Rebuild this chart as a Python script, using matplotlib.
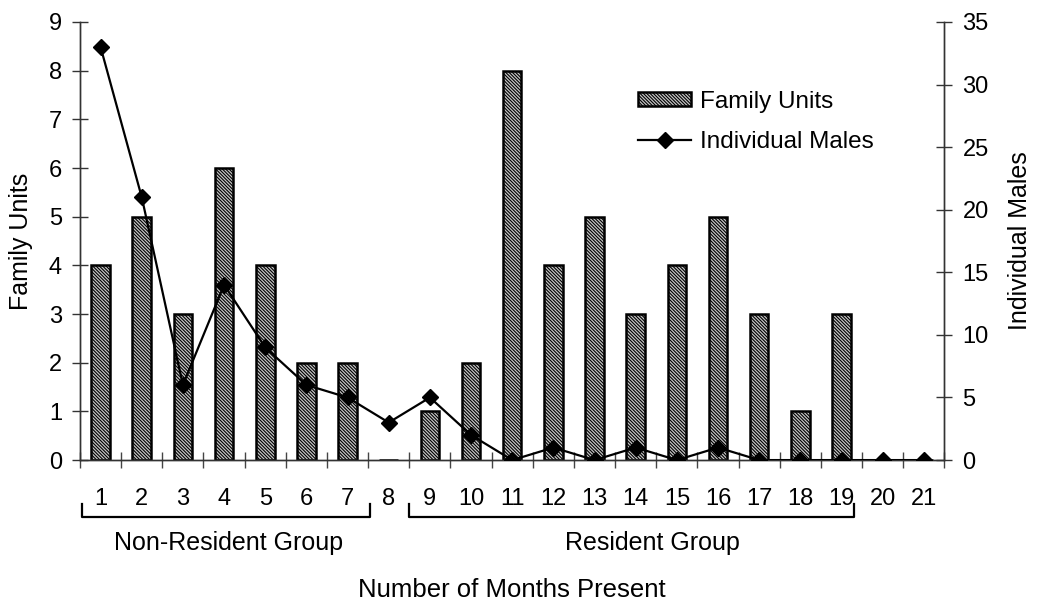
import matplotlib.pyplot as plt
import matplotlib as mpl
import numpy as np

plt.rcParams['font.family'] = ['Liberation Sans', 'DejaVu Sans']
plt.rcParams['hatch.linewidth'] = 0.8
plt.rcParams['hatch.color'] = '#3a3a3a'

# DATA
months = list(range(1, 22))
family_units = [4, 5, 3, 6, 4, 2, 2, 0, 1, 2, 8, 4, 5, 3, 4, 5, 3, 1, 3, 0, 0]
individual_males = [33, 21, 6, 14, 9, 6, 5, 3, 5, 2, 0, 1, 0, 1, 0, 1, 0, 0, 0, 0, 0]
# group name, bracket start, bracket end, label centre (in month units)
groups = [('Non-Resident Group', 0.55, 7.55, 4.12),
          ('Resident Group', 8.5, 19.3, 14.4)]

fig = plt.figure(figsize=(10.39, 6.11), dpi=100)
ax = fig.add_axes([0.077, 0.247, 0.832, 0.717])
ax2 = ax.twinx()

x = np.array(months)
ax.bar(x, family_units, width=0.45, facecolor='#c4c4c4', edgecolor='black',
       linewidth=1.8, hatch='\\' * 10, label='Family Units', zorder=2)
ax2.plot(x, individual_males, color='black', lw=1.6, marker='D', ms=8,
         label='Individual Males', zorder=3)

ax.set_xlim(0.5, 21.5)
ax.set_ylim(0, 9)
ax2.set_ylim(0, 35)
ax.set_yticks(range(0, 10))
ax2.set_yticks(range(0, 36, 5))

# x ticks: labels at centres, tick marks at boundaries
ax.set_xticks(x)
ax.set_xticklabels([str(m) for m in months])
ax.set_xticks(np.arange(0.5, 22, 1), minor=True)
ax.tick_params(axis='x', which='major', length=0, pad=20, labelsize=17)
ax.tick_params(axis='x', which='minor', direction='inout', length=11, width=1, color='#444444')
ax.tick_params(axis='y', direction='inout', length=12, width=1, labelsize=17, pad=7, color='#333333')
ax2.tick_params(axis='y', direction='inout', length=12, width=1, labelsize=17, pad=7, color='#333333')

for a in (ax, ax2):
    a.spines['top'].set_visible(False)
    for s in ('left', 'right', 'bottom'):
        a.spines[s].set_linewidth(1)
        a.spines[s].set_color('#333333')

ax.set_ylabel('Family Units', fontsize=18, labelpad=11)
ax2.set_ylabel('Individual Males', fontsize=18, labelpad=14)

# group brackets below the axis
trans = mpl.transforms.blended_transform_factory(ax.transData, fig.transFigure)
y_top, y_bot = (611 - 504) / 611, (611 - 517) / 611
for name, x0, x1, xc in groups:
    ax.plot([x0, x0, x1, x1], [y_top, y_bot, y_bot, y_top], color='black',
            lw=1.6, transform=trans, clip_on=False)
    ax.text(xc, (611 - 543) / 611, name, transform=trans,
            ha='center', va='center', fontsize=18)

fig.text(512 / 1039, (611 - 590) / 611, 'Number of Months Present', ha='center',
         va='center', fontsize=18.5)

h1, l1 = ax.get_legend_handles_labels()
h2, l2 = ax2.get_legend_handles_labels()
ax2.legend(h1 + h2, l1 + l2, loc='upper left', bbox_to_anchor=(0.62, 0.893),
           frameon=False, fontsize=17.5, handlelength=2.2, handleheight=0.55,
           handletextpad=0.35, labelspacing=0.75)

fig.savefig('out.png', dpi=100)
